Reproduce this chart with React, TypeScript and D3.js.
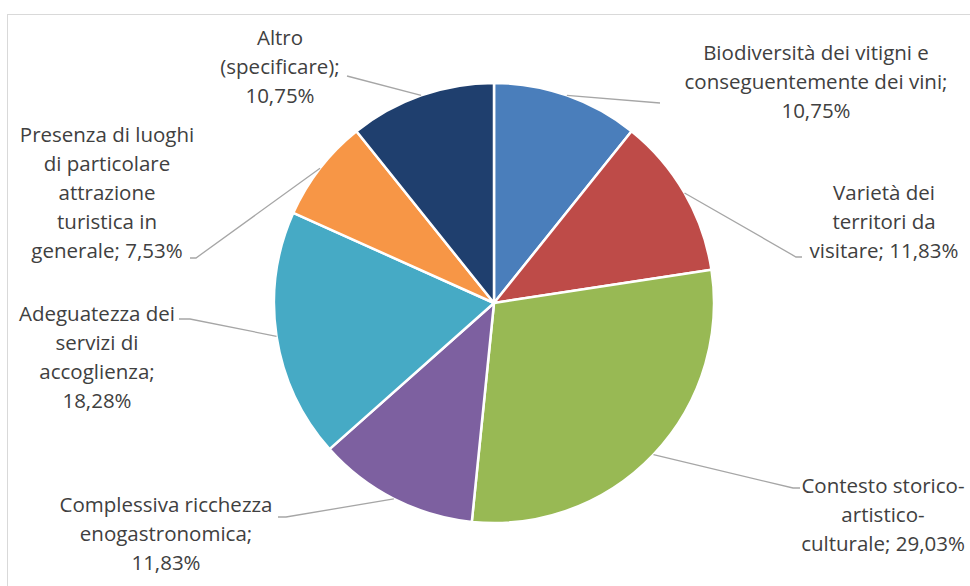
import React from "react";
import * as d3 from "d3";

const categories = [
  "Biodiversità dei vitigni e conseguentemente dei vini",
  "Varietà dei territori da visitare",
  "Contesto storico-artistico-culturale",
  "Complessiva ricchezza enogastronomica",
  "Adeguatezza dei servizi di accoglienza",
  "Presenza di luoghi di particolare attrazione turistica in generale",
  "Altro (specificare)",
];
const values = [10.75, 11.83, 29.03, 11.83, 18.28, 7.53, 10.75];
const valueLabels = ["10,75%", "11,83%", "29,03%", "11,83%", "18,28%", "7,53%", "10,75%"];
const labelLines = [
  ["Biodiversità dei vitigni e", "conseguentemente dei vini;", "10,75%"],
  ["Varietà dei", "territori da", "visitare; 11,83%"],
  ["Contesto storico-", "artistico-", "culturale; 29,03%"],
  ["Complessiva ricchezza", "enogastronomica;", "11,83%"],
  ["Adeguatezza dei", "servizi di", "accoglienza;", "18,28%"],
  ["Presenza di luoghi", "di particolare", "attrazione", "turistica in", "generale; 7,53%"],
  ["Altro", "(specificare);", "10,75%"],
];
const colors = ["#4a7ebb", "#be4b48", "#98b954", "#7d60a0", "#46aac5", "#f79646", "#1f3f6e"];

// label layout (positions only)
const layout = [
  { cx: 816, y0: 52, end: [660, 103], stub: [660, 103] },
  { cx: 884, y0: 192, end: [796, 257], stub: [802, 257] },
  { cx: 883, y0: 485, end: [793, 488], stub: [800, 488] },
  { cx: 166, y0: 504, end: [286, 517], stub: [278, 517] },
  { cx: 97, y0: 313, end: [190, 319], stub: [179, 319] },
  { cx: 107, y0: 134, end: [196, 258], stub: [190, 258] },
  { cx: 280, y0: 37, end: [347, 76], stub: [347, 76] },
];

const W = 970;
const H = 586;
const CX = 494;
const CY = 303;
const R = 220;
const LINE_H = 29;

export default function App() {
  const pie = d3.pie<number>().sort(null).value((d) => d)(values);
  const arc = d3.arc<d3.PieArcDatum<number>>().innerRadius(0).outerRadius(R);

  return (
    <svg
      width={W}
      height={H}
      style={{ position: "absolute", left: 0, top: 0, background: "#ffffff" }}
      fontFamily="'Open Sans', sans-serif"
    >
      <rect x={7.5} y={14.5} width={W + 20} height={H + 20} fill="#ffffff" stroke="#d9d9d9" strokeWidth={1} />
      <g transform={`translate(${CX},${CY})`}>
        {pie.map((p, i) => (
          <path key={categories[i]} d={arc(p) || ""} fill={colors[i]} stroke="#ffffff" strokeWidth={2.5} strokeLinejoin="round" />
        ))}
      </g>
      {pie.map((p, i) => {
        const mid = (p.startAngle + p.endAngle) / 2;
        const px = CX + R * Math.sin(mid);
        const py = CY - R * Math.cos(mid);
        const L = layout[i];
        return (
          <polyline
            key={"l" + i}
            points={`${px},${py} ${L.end[0]},${L.end[1]} ${L.stub[0]},${L.stub[1]}`}
            fill="none"
            stroke="#a6a6a6"
            strokeWidth={1.3}
          />
        );
      })}
      {labelLines.map((lines, i) => (
        <text
          key={"t" + i}
          x={layout[i].cx}
          textAnchor="middle"
          fontSize={20.5}
          fill="#404040"
          aria-label={`${categories[i]}; ${valueLabels[i]}`}
        >
          {lines.map((ln, j) => (
            <tspan key={j} x={layout[i].cx} y={layout[i].y0 + j * LINE_H} dominantBaseline="central">
              {ln}
            </tspan>
          ))}
        </text>
      ))}
    </svg>
  );
}
